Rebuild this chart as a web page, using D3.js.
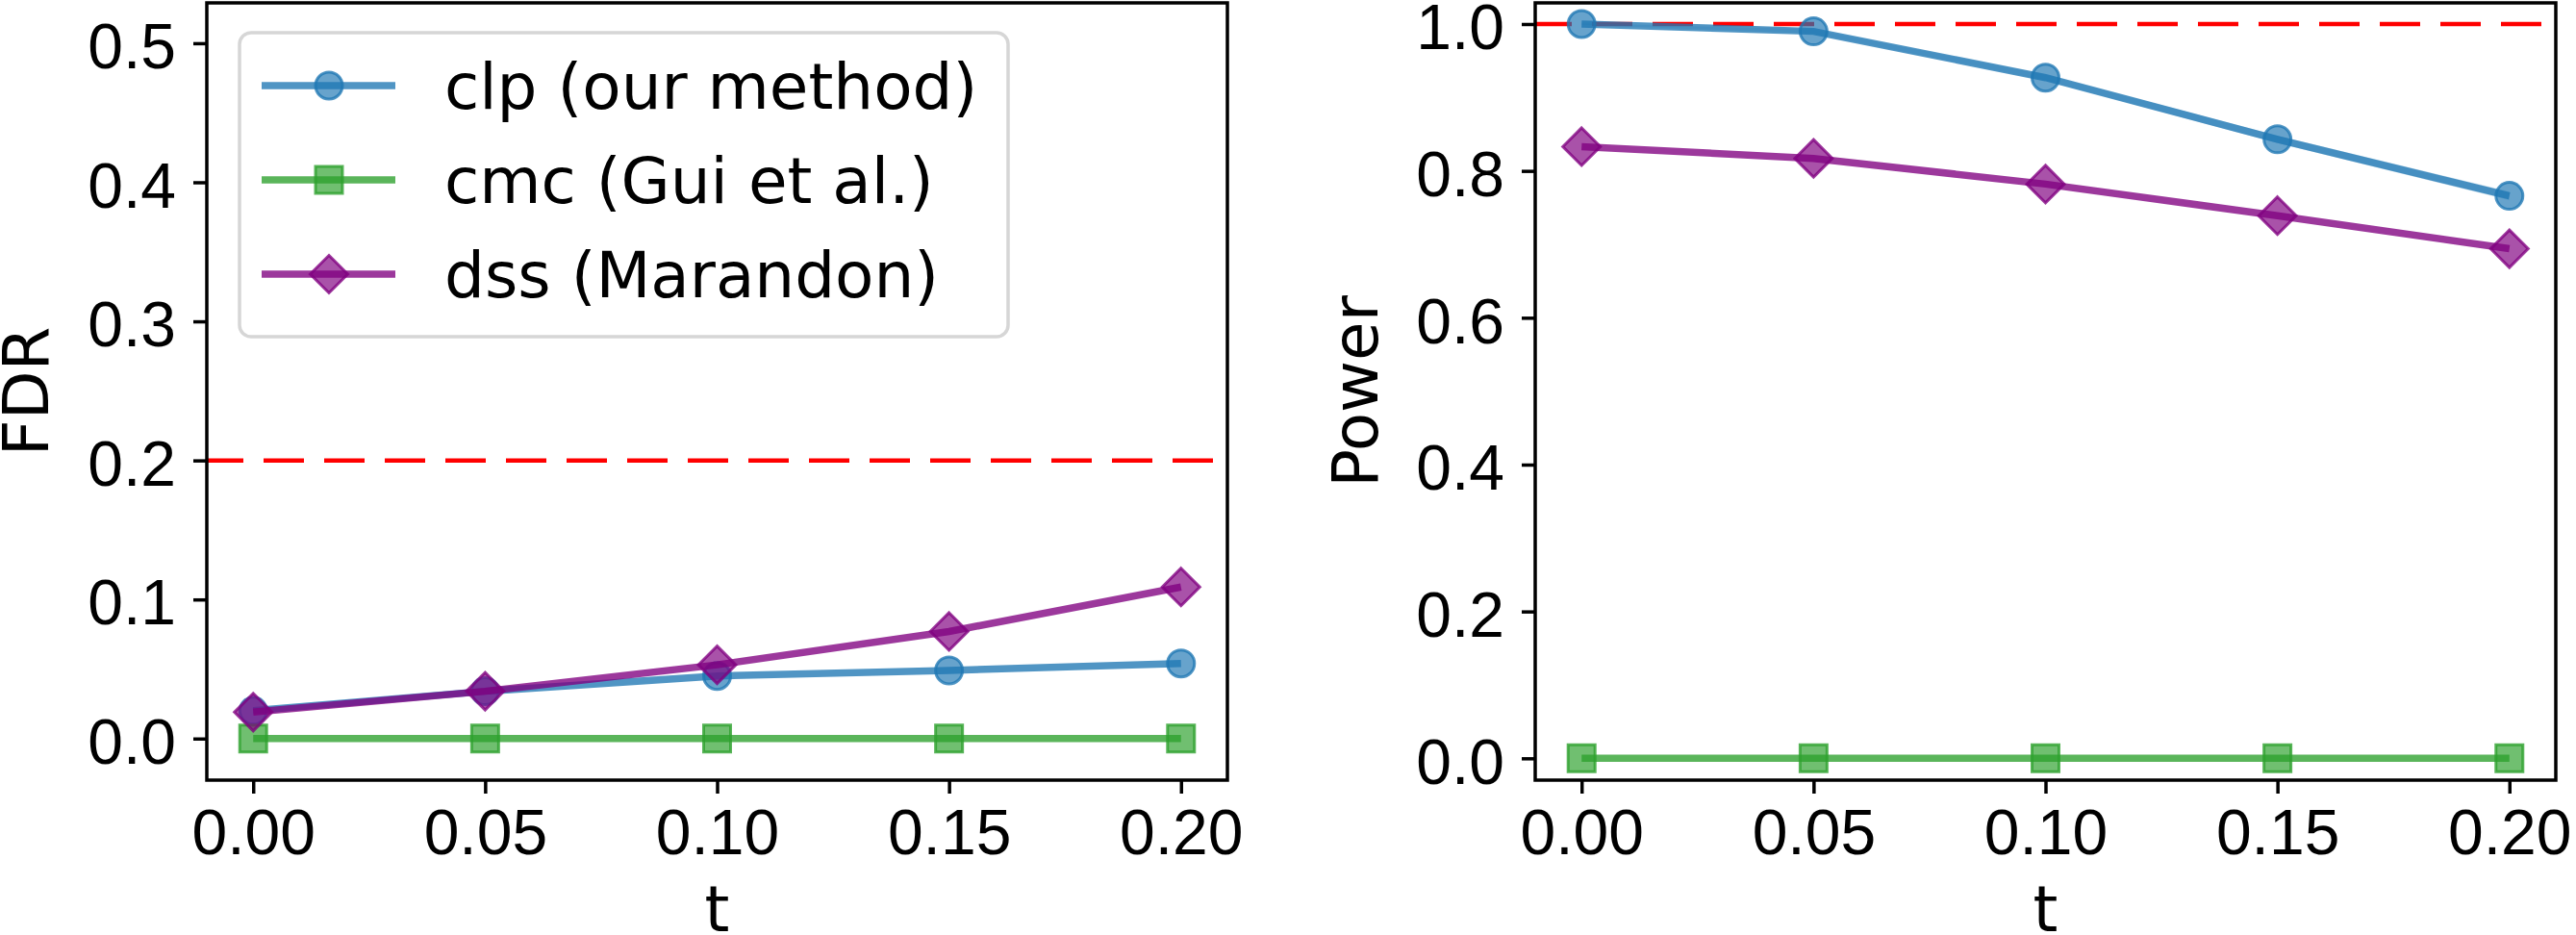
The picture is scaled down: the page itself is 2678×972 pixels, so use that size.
<!doctype html>
<html lang="en">
<head>
<meta charset="utf-8">
<title>FDR and power vs t</title>
<style>
  body { margin: 0; background: #fff; }
  svg { display: block; font-family: "DejaVu Sans", sans-serif; }
  .tick text { font-size: 66px; fill: #000; }
</style>
</head>
<body>
<div id="chart"></div>
<script src="https://cdn.jsdelivr.net/npm/d3@7"></script>
<script>

// ---------------- data
var tValues = [0.00, 0.05, 0.10, 0.15, 0.20];
var xTicks = [0.00, 0.05, 0.10, 0.15, 0.20];

var methods = ["clp (our method)", "cmc (Gui et al.)", "dss (Marandon)"];
var methodColors = ["#1f77b4", "#2ca02c", "#800080"];
var methodShapes = ["circle", "square", "diamond"];

var clpFdr = [0.020, 0.034, 0.045, 0.049, 0.054];
var cmcFdr = [0.000, 0.000, 0.000, 0.000, 0.000];
var dssFdr = [0.019, 0.034, 0.053, 0.077, 0.109];

var clpPower = [1.000, 0.990, 0.927, 0.843, 0.766];
var cmcPower = [0.000, 0.000, 0.000, 0.000, 0.000];
var dssPower = [0.833, 0.817, 0.782, 0.739, 0.694];
var clpPowerSe = [0.001, 0.003, 0.004, 0.005, 0.006];

var fdrTicks = [0.0, 0.1, 0.2, 0.3, 0.4, 0.5];
var powerTicks = [0.0, 0.2, 0.4, 0.6, 0.8, 1.0];
var fdrTarget = 0.2;
var powerTarget = 1.0;

// ---------------- svg
var width = 2678, height = 972;
var svg = d3.select("#chart").append("svg")
    .attr("width", width)
    .attr("height", height);

function markerPath(shape) {
  if (shape == "circle") return d3.symbol().type(d3.symbolCircle).size(Math.PI * 14 * 14)();
  if (shape == "square") return d3.symbol().type(d3.symbolSquare).size(28 * 28)();
  return "M0,-19.5L19.5,0L0,19.5L-19.5,0Z";
}

function drawPanel(p) {
  var x = d3.scaleLinear().domain([-0.01, 0.21]).range([p.left, p.right]);
  var y = d3.scaleLinear().domain(p.yDomain).range([p.bottom, p.top]);

  var g = svg.append("g");

  // x axis
  var xAxis = g.append("g")
      .attr("transform", "translate(0," + p.bottom + ")")
      .call(d3.axisBottom(x).tickValues(xTicks).tickFormat(d3.format(".2f"))
            .tickSize(14).tickPadding(16));
  xAxis.select(".domain").remove();
  xAxis.selectAll(".tick line").attr("stroke", "#000").attr("stroke-width", 3.5);

  // y axis
  var yAxis = g.append("g")
      .attr("transform", "translate(" + p.left + ",0)")
      .call(d3.axisLeft(y).tickValues(p.yTicks).tickFormat(d3.format(".1f"))
            .tickSize(14).tickPadding(18));
  yAxis.select(".domain").remove();
  yAxis.selectAll(".tick line").attr("stroke", "#000").attr("stroke-width", 3.5);
  yAxis.selectAll(".tick text").attr("dy", "0.39em");

  // reference line
  g.append("line")
      .attr("x1", p.left).attr("x2", p.right)
      .attr("y1", y(p.target)).attr("y2", y(p.target))
      .attr("stroke", "red")
      .attr("stroke-width", 4.5)
      .attr("stroke-dasharray", "42,21")
      .attr("stroke-dashoffset", 4);

  // band
  if (p.band) {
    var area = d3.area()
        .x(function(d, i) { return x(tValues[i]); })
        .y0(function(d, i) { return y(p.band.values[i] - d); })
        .y1(function(d, i) { return y(p.band.values[i] + d); });
    g.append("path")
        .attr("d", area(p.band.se))
        .attr("fill", p.band.color)
        .attr("fill-opacity", 0.2);
  }

  var line = d3.line()
      .x(function(d, i) { return x(tValues[i]); })
      .y(function(d) { return y(d); });

  p.series.forEach(function(vals, k) {
    var col = methodColors[k];
    g.append("path")
        .attr("d", line(vals))
        .attr("fill", "none")
        .attr("stroke", col)
        .attr("stroke-width", 7.5)
        .attr("stroke-opacity", 0.78);
    g.selectAll(".m" + k).data(vals).enter()
      .append("path")
        .attr("class", "m" + k)
        .attr("transform", function(d, i) { return "translate(" + x(tValues[i]) + "," + y(d) + ")"; })
        .attr("d", markerPath(methodShapes[k]))
        .attr("fill", col)
        .attr("fill-opacity", 0.68)
        .attr("stroke", col)
        .attr("stroke-opacity", 0.78)
        .attr("stroke-width", 3);
  });

  // frame
  g.append("rect")
      .attr("x", p.left).attr("y", p.top)
      .attr("width", p.right - p.left).attr("height", p.bottom - p.top)
      .attr("fill", "none")
      .attr("stroke", "#000")
      .attr("stroke-width", 3.5);

  // axis titles
  g.append("text")
      .attr("x", (p.left + p.right) / 2)
      .attr("y", 968)
      .attr("text-anchor", "middle")
      .attr("font-size", 66)
      .text("t");
  g.append("text")
      .attr("transform", "translate(" + p.yLabelX + "," + ((p.top + p.bottom) / 2) + ") rotate(-90)")
      .attr("text-anchor", "middle")
      .attr("font-size", 66)
      .text(p.yLabel);

  return g;
}

drawPanel({
  left: 215, right: 1276, top: 3, bottom: 811,
  yDomain: [-0.0299, 0.529], yTicks: fdrTicks, target: fdrTarget,
  yLabel: "FDR", yLabelX: 50,
  series: [clpFdr, cmcFdr, dssFdr]
});

drawPanel({
  left: 1596, right: 2657, top: 3, bottom: 811,
  yDomain: [-0.0297, 1.0288], yTicks: powerTicks, target: powerTarget,
  yLabel: "Power", yLabelX: 1432,
  series: [clpPower, cmcPower, dssPower],
  band: { values: clpPower, se: clpPowerSe, color: methodColors[0] }
});

// ---------------- legend
var legend = svg.append("g").attr("class", "legend");
legend.append("rect")
    .attr("x", 249).attr("y", 34)
    .attr("width", 799).attr("height", 316)
    .attr("rx", 12)
    .attr("fill", "#fff")
    .attr("fill-opacity", 0.8)
    .attr("stroke", "#d6d6d6")
    .attr("stroke-width", 3.5);

var rowY = d3.scalePoint().domain(methods).range([89, 285]);
methods.forEach(function(name, k) {
  var yy = rowY(name);
  var col = methodColors[k];
  legend.append("line")
      .attr("x1", 272).attr("x2", 411)
      .attr("y1", yy).attr("y2", yy)
      .attr("stroke", col)
      .attr("stroke-width", 7.5)
      .attr("stroke-opacity", 0.78);
  legend.append("path")
      .attr("transform", "translate(342," + yy + ")")
      .attr("d", markerPath(methodShapes[k]))
      .attr("fill", col)
      .attr("fill-opacity", 0.68)
      .attr("stroke", col)
      .attr("stroke-opacity", 0.78)
      .attr("stroke-width", 3);
  legend.append("text")
      .attr("x", 462)
      .attr("y", yy)
      .attr("dy", "0.36em")
      .attr("font-size", 66)
      .text(name);
});

</script>
</body>
</html>
